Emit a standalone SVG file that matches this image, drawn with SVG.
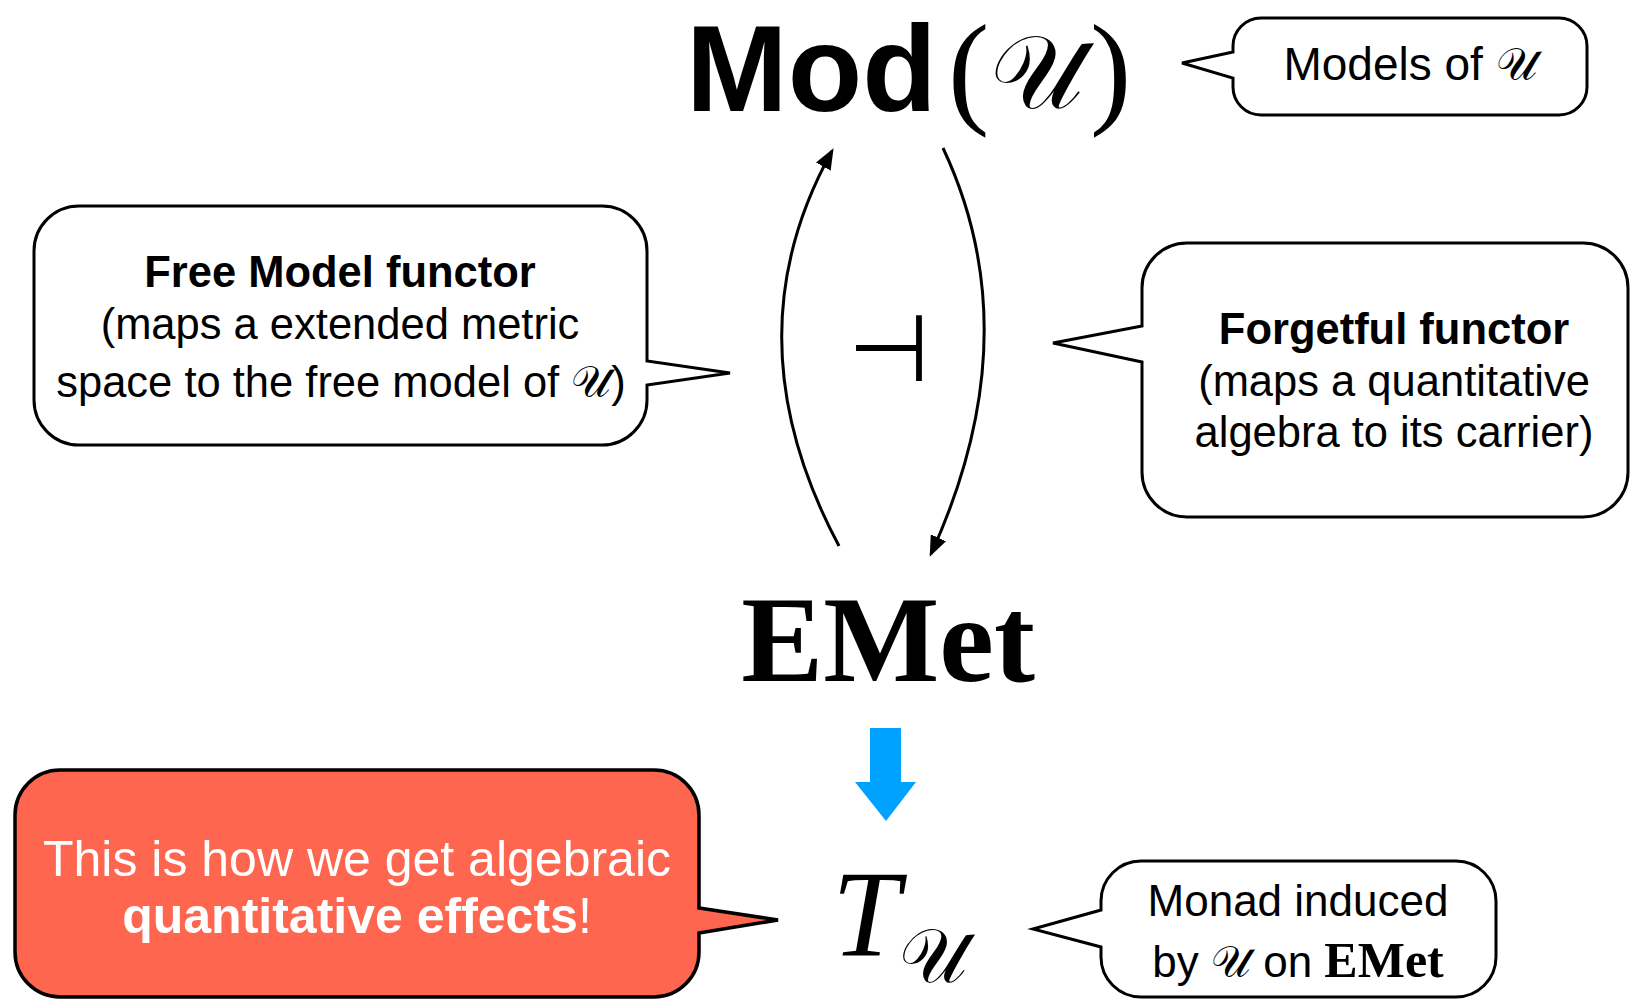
<svg xmlns="http://www.w3.org/2000/svg" width="1631" height="1000" viewBox="0 0 1631 1000">
<style>
.bub{fill:#fff;stroke:#000;stroke-width:3;stroke-linejoin:miter}
.red{fill:#FE6650;stroke:#000;stroke-width:3.5}
.t{font-family:"Liberation Sans",Arial,sans-serif;font-size:43.5px;fill:#000}
.b{font-weight:bold}
.scr{font-family:"DejaVu Serif","DejaVu Sans",serif;font-style:normal;font-weight:normal}
.serb{font-family:"Liberation Serif","Times New Roman",serif;font-weight:bold}
.arc{fill:none;stroke:#000;stroke-width:3}
</style>
<defs>
<marker id="ah" viewBox="0 0 20 16" refX="17" refY="8" markerWidth="21" markerHeight="17" markerUnits="userSpaceOnUse" orient="auto">
<path d="M0,0 L20,8 L0,16 Z" fill="#000"/>
</marker>
</defs>

<g id="mod">
<text x="686" y="111" style="font-family:'Liberation Sans',Arial,sans-serif;font-weight:bold;font-size:122px">Mod</text>
<text x="948" y="111" style="font-family:'Liberation Serif',serif;font-size:124px">(</text>
<text x="1090" y="111" style="font-family:'Liberation Serif',serif;font-size:124px">)</text>
<text x="990" y="108" class="scr" style="font-size:104px">𝒰</text>
</g>

<g id="models">
<path class="bub" d="M1261,18 H1559 A28 28 0 0 1 1587 46 V87 A28 28 0 0 1 1559 115 H1261 A28 28 0 0 1 1233 87 V78 L1182 63 L1233 52 V46 A28 28 0 0 1 1261 18 Z"/>
<text x="1410" y="80" class="t" text-anchor="middle" style="font-size:46px">Models of <tspan class="scr">𝒰</tspan></text>
</g>

<g id="free">
<path class="bub" d="M79,206 H602 A45 45 0 0 1 647 251 V361 L730 373 L647 385 V400 A45 45 0 0 1 602 445 H79 A45 45 0 0 1 34 400 V251 A45 45 0 0 1 79 206 Z"/>
<text class="t b" x="340" y="287" text-anchor="middle">Free Model functor</text>
<text class="t" x="340" y="339" text-anchor="middle">(maps a extended metric</text>
<text class="t" x="341" y="397" text-anchor="middle">space to the free model of <tspan class="scr">𝒰</tspan>)</text>
</g>

<g id="forget">
<path class="bub" d="M1187,243 H1583 A45 45 0 0 1 1628 288 V472 A45 45 0 0 1 1583 517 H1187 A45 45 0 0 1 1142 472 V362 L1053 343 L1142 326 V288 A45 45 0 0 1 1187 243 Z"/>
<text class="t b" x="1394" y="344" text-anchor="middle">Forgetful functor</text>
<text class="t" x="1394" y="396" text-anchor="middle">(maps a quantitative</text>
<text class="t" x="1394" y="447" text-anchor="middle">algebra to its carrier)</text>
</g>

<g id="adj">
<text x="889" y="381" text-anchor="middle" style="font-family:'DejaVu Sans',sans-serif;font-size:94px">⊣</text>
</g>

<g id="emet">
<text x="888" y="681" text-anchor="middle" class="serb" style="font-size:123px">EMet</text>
</g>

<g id="tu">
<text x="832" y="955" style="font-family:'Liberation Serif',serif;font-style:italic;font-size:122px">T</text>
<text x="899" y="982" class="scr" style="font-size:76px">𝒰</text>
</g>

<g id="effects">
<path class="red" d="M60,770 H654 A45 45 0 0 1 699 815 V908 L778 920 L699 933 V952 A45 45 0 0 1 654 997 H60 A45 45 0 0 1 15 952 V815 A45 45 0 0 1 60 770 Z"/>
<text class="t" x="357" y="876" text-anchor="middle" style="font-size:50px;fill:#fff">This is how we get algebraic</text>
<text class="t" x="357" y="933" text-anchor="middle" style="font-size:50px;fill:#fff"><tspan class="b">quantitative effects</tspan>!</text>
</g>

<g id="monad">
<path class="bub" d="M1141,861 H1456 A40 40 0 0 1 1496 901 V957 A40 40 0 0 1 1456 997 H1141 A40 40 0 0 1 1101 957 V947 L1033 929 L1101 910 V901 A40 40 0 0 1 1141 861 Z"/>
<text class="t" x="1298" y="916" text-anchor="middle" style="font-size:44px">Monad induced</text>
<text class="t" x="1298" y="977" text-anchor="middle" style="font-size:44px">by <tspan class="scr">𝒰</tspan> on <tspan class="serb" style="font-size:50px">EMet</tspan></text>
</g>

<g id="connectors">
<path class="arc" d="M839,546 Q728,338 832,151" marker-end="url(#ah)"/>
<path class="arc" d="M943,148 Q1031,335 931,554" marker-end="url(#ah)"/>
<path d="M870,728 H901 V782 H916 L886,821 L855,782 H870 Z" fill="#00A2FF"/>
</g>
</svg>
